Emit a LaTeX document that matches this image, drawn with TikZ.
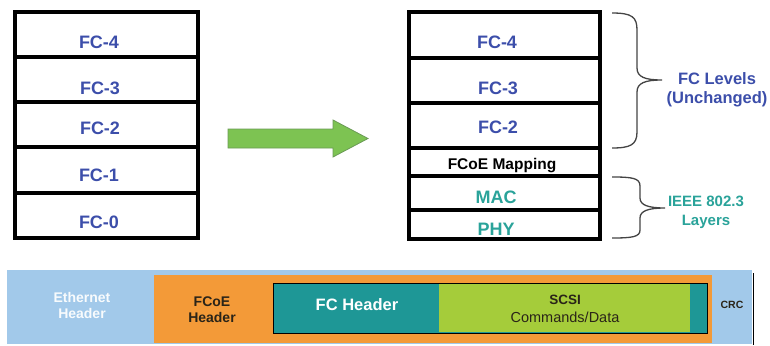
\documentclass[tikz,border=0pt]{standalone}
\usepackage{fontspec}
\setmainfont{Liberation Sans}
\definecolor{fcblue}{HTML}{3C4EAA}
\definecolor{ieeeteal}{HTML}{2AA39A}
\definecolor{ethblue}{HTML}{A2C9EA}
\definecolor{fcoeorange}{HTML}{F39A38}
\definecolor{fcteal}{HTML}{1E9796}
\definecolor{scsilime}{HTML}{A5CC3A}
\definecolor{arrowgreen}{HTML}{7DC352}
\definecolor{arrowedge}{HTML}{6A9A55}
\definecolor{bracegray}{HTML}{444444}
\definecolor{dark}{HTML}{2A2418}
\tikzset{
  stackline/.style={line width=4pt, line cap=rect},
  fclabel/.style={font=\bfseries\fontsize{18}{20}\selectfont, text=fcblue, inner sep=0pt},
  ieeelabel/.style={font=\bfseries\fontsize{18}{20}\selectfont, text=ieeeteal, inner sep=0pt},
  bracestyle/.style={draw=bracegray, line width=1.3pt},
  sidelabel/.style={font=\bfseries\fontsize{16.5}{20}\selectfont, align=center, inner sep=0pt},
}
\begin{document}
\begin{tikzpicture}[x=1pt,y=-1pt]
\useasboundingbox (0,0) rectangle (770,345);
\fill[white] (0,0) rectangle (770,345);

% ---------- left stack ----------
\node[fclabel] (l4) at (99,42) {FC-4};
\node[fclabel] (l3) at (100,88) {FC-3};
\node[fclabel] (l2) at (100,128) {FC-2};
\node[fclabel] (l1) at (99,175) {FC-1};
\node[fclabel] (l0) at (99,222) {FC-0};
\draw[stackline] (15,12) rectangle (198,238);
\foreach \yy in {57,102,147,193} \draw[stackline] (15,\yy) -- (198,\yy);

% ---------- green arrow ----------
\draw[fill=arrowgreen, draw=arrowedge, line width=0.8pt]
  (228,129) -- (333,129) -- (333,120) -- (368,138.5) -- (333,157) -- (333,148) -- (228,148) -- cycle;

% ---------- right stack ----------
\node[fclabel] (r4) at (497,42) {FC-4};
\node[fclabel] (r3) at (498,88) {FC-3};
\node[fclabel] (r2) at (498,127) {FC-2};
\node[font=\bfseries\fontsize{15.5}{18}\selectfont, inner sep=0pt] (map) at (502,166) {FCoE Mapping};
\node[ieeelabel] (mac) at (496,197) {MAC};
\node[ieeelabel] (phy) at (496,229) {PHY};
\draw[stackline] (409,12) rectangle (600,238.5);
\foreach \yy in {58,103,148,176,210} \draw[stackline] (409,\yy) -- (600,\yy);

% ---------- braces ----------
\draw[bracestyle] (612,13) .. controls (632,13) and (637,17) .. (637,30) -- (637,68)
  .. controls (637,77) and (645,80) .. (662,80)
  .. controls (645,80) and (637,83) .. (637,92) -- (637,132)
  .. controls (637,145) and (630,148) .. (612,148);
\draw[bracestyle] (612,177) .. controls (632,177) and (640,178) .. (640,186) -- (640,198)
  .. controls (640,205) and (648,208) .. (665,208)
  .. controls (648,208) and (640,211) .. (640,218) -- (640,230)
  .. controls (640,237) and (632,238) .. (612,238);
\node[sidelabel, text=fcblue] (fclev) at (717,90) {FC Levels\\[-1pt](Unchanged)};
\node[sidelabel, text=ieeeteal, font=\bfseries\fontsize{15}{20}\selectfont] (ieee) at (706,212) {IEEE 802.3\\[-1pt]Layers};

% ---------- frame band ----------
\fill[ethblue] (7,270) rectangle (752,344);
\fill[fcoeorange] (154,275) rectangle (712,343);
\draw[fill=fcteal, draw=black, line width=0.8pt] (273,283) rectangle (707,333);
\fill[scsilime] (439,284) rectangle (690,331.5);
\draw[black, line width=1.6pt] (753.5,273) -- (753.5,345);

\node[font=\bfseries\fontsize{14}{16}\selectfont, text=white!92!ethblue, align=center, inner sep=0pt] (eth) at (82,305) {Ethernet\\Header};
\node[font=\bfseries\fontsize{14}{16}\selectfont, text=dark, align=center, inner sep=0pt] (fcoeh) at (212,310) {FCoE\\Header};
\node[font=\bfseries\fontsize{16.5}{18}\selectfont, text=white, inner sep=0pt] (fch) at (357,305) {FC Header};
\node[font=\bfseries\fontsize{13.5}{16}\selectfont, text=dark, inner sep=0pt] (scsi) at (565,300) {SCSI};
\node[font=\fontsize{14.5}{16}\selectfont, text=dark, inner sep=0pt] (cmd) at (565,317) {Commands/Data};
\node[font=\bfseries\fontsize{10.5}{12}\selectfont, text=dark, inner sep=0pt] (crc) at (732,305) {CRC};
\end{tikzpicture}
\end{document}
